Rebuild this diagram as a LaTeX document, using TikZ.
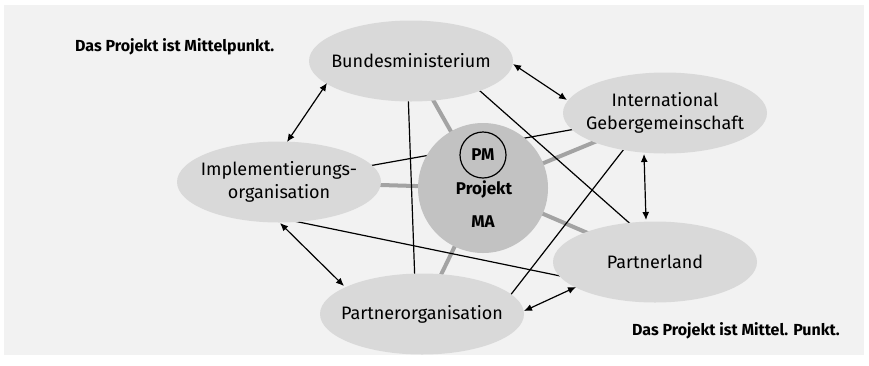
\documentclass[tikz,border=0pt]{standalone}
\usepackage{fontspec}
\setmainfont{Fira Sans}
\usetikzlibrary{shapes.geometric,arrows.meta}
\definecolor{bgc}{HTML}{F2F2F2}
\definecolor{ellc}{HTML}{D9D9D9}
\definecolor{midc}{HTML}{C2C2C2}
\definecolor{linkc}{HTML}{A3A3A3}
\pgfdeclarelayer{bg}
\pgfsetlayers{bg,main}
\begin{document}
\begin{tikzpicture}[x=1pt,y=-1pt,
  actor/.style={ellipse, fill=ellc, minimum width=204pt, minimum height=81pt, inner sep=0pt},
  lbl/.style={align=center, inner sep=0pt, font=\fontsize{18}{23}\selectfont},
  hub/.style={circle, fill=midc, minimum size=130pt, inner sep=0pt},
  hubtxt/.style={font=\fontsize{17}{20}\selectfont\bfseries, inner sep=0pt},
  pmring/.style={circle, draw=black, line width=1.2pt, minimum size=46pt, inner sep=0pt, font=\fontsize{17}{20}\selectfont\bfseries},
  note/.style={font=\fontsize{16}{19}\selectfont\bfseries, inner sep=0pt},
  link/.style={draw=linkc, line width=4pt},
  thin/.style={draw=black, line width=1.2pt},
  arr/.style={draw=black, line width=1.2pt, {Latex[length=8pt,width=7pt]}-{Latex[length=8pt,width=7pt]}}]
\useasboundingbox (0,0) rectangle (869,365);
\begin{pgfonlayer}{bg}
  \fill[white] (0,0) rectangle (869,365);
  \fill[bgc] (4,5) rectangle (864,355);
\end{pgfonlayer}

\node[actor] (B)  at (411,61)  {};
\node[lbl] (Bt) at (B.center) {Bundesministerium};
\node[actor] (IG) at (665,113) {};
\node[lbl] (IGt) at (IG.center) {International\\Gebergemeinschaft};
\node[actor] (IO) at (279,182) {};
\node[lbl] (IOt) at (IO.center) {Implementierungs-\\organisation};
\node[actor] (PL) at (655,262) {};
\node[lbl] (PLt) at (PL.center) {Partnerland};
\node[actor] (PO) at (422,314) {};
\node[lbl] (POt) at (PO.center) {Partnerorganisation};
\node[hub] (C) at (483,188) {};
\node[pmring] (PM) at (483,155) {PM};
\node[hubtxt, anchor=base] (PJ) at (484,194) {Projekt};
\node[hubtxt, anchor=base] (MA) at (483,227) {MA};

\node[note, anchor=base west] (T1) at (75,51) {Das Projekt ist Mittelpunkt.};
\node[note, anchor=base east] (T2) at (840,335) {Das Projekt ist Mittel. Punkt.};

\begin{pgfonlayer}{bg}
  \draw[link] (C.center) -- (B.center);
  \draw[link] (C.center) -- (IG.center);
  \draw[link] (C.center) -- (IO.center);
  \draw[link] (C.center) -- (PL.center);
  \draw[link] (C.center) -- (PO.center);
  \draw[thin] ([shift={(-3,30)}]B.center) -- ([shift={(-7,-30)}]PO.center);
  \draw[thin] ([shift={(60,22)}]B.center) -- ([shift={(-20,-34)}]PL.center);
  \draw[thin] (IO.center) -- (IG.center);
  \draw[thin] ([shift={(-34,27)}]IG.center) -- ([shift={(80,-8)}]PO.center);
  \draw[thin] ([shift={(10,38)}]IO.center) -- ([shift={(-85,16)}]PL.center);
\end{pgfonlayer}

\draw[arr] ([shift={(-84,22)}]B.center) -- ([shift={(8,-40)}]IO.center);
\draw[arr] ([shift={(102,3)}]B.center) -- ([shift={(-98,-13)}]IG.center);
\draw[arr] ([shift={(-21,41)}]IG.center) -- ([shift={(-9,-42)}]PL.center);
\draw[arr] ([shift={(1,41)}]IO.center) -- ([shift={(-78,-28)}]PO.center);
\draw[arr] ([shift={(102,-3)}]PO.center) -- ([shift={(-79,25)}]PL.center);
\end{tikzpicture}
\end{document}
